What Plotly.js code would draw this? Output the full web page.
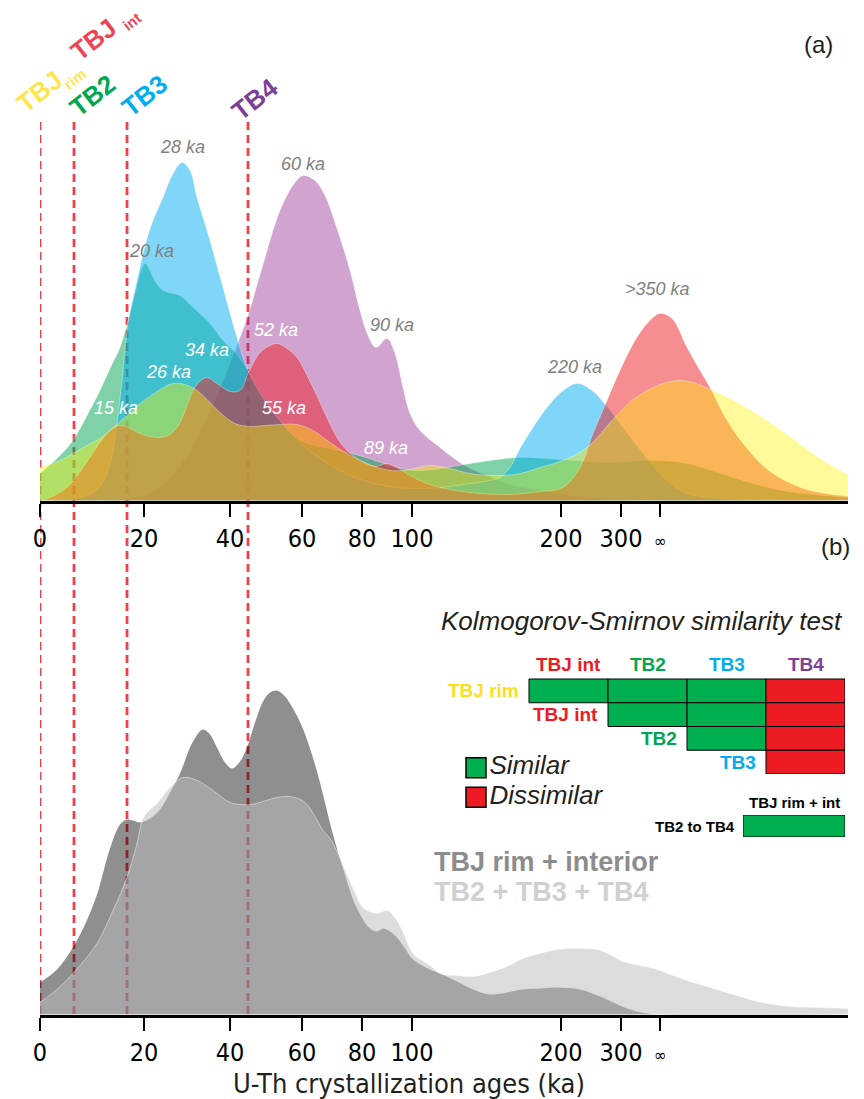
<!DOCTYPE html>
<html><head><meta charset="utf-8">
<script src="https://cdn.plot.ly/plotly-3.0.1.min.js"></script>
<style>html,body{margin:0;padding:0;background:#fff;}#chart{width:864px;height:1099px;}</style>
</head><body><div id="chart"></div>
<script>
// ---------- axis (non-linear age scale, positions in scale units) ----------
const tickPos  = [40, 144, 230, 302, 362, 412, 561, 621, 660];
const tickAges = ['0', '20', '40', '60', '80', '100', '200', '300', '∞'];

// ---------- panel (a): probability density curves (scale position, relative density) ----------
const tbjRimX = [40,60,73,87,100,110,120,130,140,150,162,173,185,197,207,220,235,250,265,280,297,313,330,347,367,390,410,430,450,470,500,520,540,560,587,613,633,660,683,713,753,787,820,848];
const tbjRimY = [33,40,47,55,62,70,79,88,97,104,112,117,116,110,101,88,77,74,75,76,76,70,58,47,37,30,31,35,32,27,25,27,33,39,53,81,101,116,120,110,89,66,42,26];

const tbjIntX = [40,50,67,83,100,110,120,130,140,157,170,180,187,193,200,207,217,230,240,248,260,270,277,287,297,313,327,337,347,360,375,387,397,410,430,450,480,510,540,563,580,593,607,620,635,648,660,672,687,700,710,727,747,770,803,848];
const tbjIntY = [0,3,13,33,58,70,75,72,67,63,66,78,95,110,119,123,117,109,110,127,148,155,157,152,143,113,83,63,50,40,34,37,33,25,16,11,7,6,9,13,33,67,100,130,160,178,187,182,153,130,113,80,52,29,12,4];

const tb2X = [40,60,73,87,100,110,120,130,137,141,145,149,153,158,163,172,180,193,210,223,237,250,263,283,303,330,363,397,417,440,470,490,520,560,607,653,687,720,753,787,848];
const tb2Y = [27,45,60,85,110,132,153,187,215,230,237,232,223,215,210,207,205,193,177,160,146,126,102,76,59,52,44,33,30,32,37,40,43,41,38,40,37,27,17,9,3];

const tb3X = [40,70,85,95,105,112,117,122,128,137,147,155,163,172,182,190,197,210,223,237,248,263,280,300,313,340,363,390,412,440,470,490,500,510,520,533,547,562,577,592,607,620,633,647,660,673,687,710,750,848];
const tb3Y = [0,1,4,9,22,45,77,120,177,220,262,285,303,325,338,330,303,260,213,163,130,103,80,58,47,30,20,14,12,13,17,20,23,33,52,73,93,109,117,110,94,77,60,42,27,15,7,3,1,0];

const tb4X = [40,100,130,150,170,190,210,220,230,240,248,263,280,295,303,315,325,337,350,360,368,376,387,395,403,410,420,440,457,470,490,510,540,570,600,650,848];
const tb4Y = [0,0,2,8,22,50,90,112,137,163,185,236,290,318,325,320,305,272,230,190,165,153,162,147,113,87,70,53,40,32,24,16,10,5,2,0,0];

// ---------- panel (b): pooled densities ----------
const tbjAllX = [40,57,73,85,97,110,120,127,133,140,150,160,170,180,193,203,210,217,225,232,240,247,255,263,270,277,285,293,302,310,317,323,333,343,357,370,377,383,390,397,405,413,430,440,457,473,490,507,523,540,557,580,595,607,627,647,660,848];
const tbjAllY = [32,45,67,90,120,166,190,195,194,192,196,205,222,241,273,285,280,267,252,246,253,267,292,313,322,324,318,306,288,266,243,220,180,146,106,86,83,86,83,77,66,55,45,41,33,25,20,22,25,26,27,25,20,15,6,1,0,0];

const tbAllX = [40,57,73,85,97,113,127,137,143,150,157,170,183,197,210,217,230,240,252,263,277,290,300,307,315,323,330,337,347,355,363,377,387,397,405,413,430,440,457,473,490,507,523,540,557,573,597,610,623,640,657,673,690,707,723,740,757,790,820,848];
const tbAllY = [12,25,41,55,71,104,137,171,196,205,211,227,237,234,226,221,212,210,210,213,217,218,215,210,198,184,176,163,140,122,107,101,104,94,78,61,49,41,39,38,42,48,56,61,65,66,65,60,53,49,45,39,33,28,23,18,13,8,7,6];

// ---------- eruption markers ----------
const eruptionNames = ['TBJ', 'TB2', 'TB3', 'TB4'];
const eruptionPos   = [40, 74, 127, 248];

// ---------- peak labels ----------
const peakText  = ['28 ka','60 ka','20 ka','90 ka','52 ka','34 ka','26 ka','15 ka','55 ka','89 ka','220 ka','&gt;350 ka'];
const peakX     = [182, 303, 151, 392, 276, 207, 168, 116, 284, 386, 574, 657];
const peakY     = [354, 337, 250, 176, 171, 151, 129, 93, 93, 53, 134, 212];
const peakWhite = [0,0,0,0,1,1,1,1,1,1,0,0];

// ---------- Kolmogorov-Smirnov results (1 similar, 0 dissimilar) ----------
const ksRows = ['TBJ rim', 'TBJ int', 'TB2', 'TB3'];
const ksCols = ['TBJ int', 'TB2', 'TB3', 'TB4'];
const ksResult = [
  [1, 1, 1, 0],
  [null, 1, 1, 0],
  [null, null, 1, 0],
  [null, null, null, 0]
];
const ksPooledRow = 'TB2 to TB4', ksPooledCol = 'TBJ rim + int', ksPooledResult = 1;
const legendNames = ['Similar', 'Dissimilar'];

// ---------- styling ----------
const W = 864, H = 1099;
const fx = px => px / W;
const fy = py => (H - py) / H;
const SANS = 'Liberation Sans, Arial, Helvetica, sans-serif';
const NARROW = 'Liberation Sans Narrow, DejaVu Sans Condensed, Arial Narrow, sans-serif';
const GREEN = '#00b050', RED = '#ed1c24';
const groupColor = {'TBJ rim':'#fedf1c','TBJ int':'#ed1c24','TB2':'#00a651','TB3':'#00aeef','TB4':'#7f3f98'};

function area(x, y, fill, xa, ya, lc) {
  return {type:'scatter', mode:'lines', x:x, y:y, xaxis:xa, yaxis:ya, fill:'tozeroy', fillcolor:fill,
    line:{color:lc, width:0.8, shape:'spline', smoothing:1}, hoverinfo:'skip', showlegend:false};
}

const edge = 'rgba(255,255,255,0.45)';
const traces = [
  area(tb4X, tb4Y, 'rgba(146,39,143,0.42)', 'x', 'y', edge),
  area(tb2X, tb2Y, 'rgba(0,166,81,0.5)', 'x', 'y', edge),
  area(tb3X, tb3Y, 'rgba(0,174,239,0.5)', 'x', 'y', edge),
  area(tbjIntX, tbjIntY, 'rgba(237,28,36,0.5)', 'x', 'y', edge),
  area(tbjRimX, tbjRimY, 'rgba(255,242,0,0.4)', 'x', 'y', edge),
  area(tbjAllX, tbjAllY, 'rgba(0,0,0,0.44)', 'x2', 'y2', 'rgba(0,0,0,0)'),
  area(tbAllX, tbAllY, 'rgba(186,187,190,0.51)', 'x2', 'y2', 'rgba(255,255,255,0.6)')
];

// KS table cells as bars (column index / row index units)
const cx = [], cb = [], cc = [];
ksResult.forEach((row, r) => row.forEach((v, c) => {
  if (v === null) return;
  cx.push(c + 0.5); cb.push(r); cc.push(v ? GREEN : RED);
}));
traces.push({type:'bar', x:cx, y:cx.map(() => 1), base:cb, width:cx.map(() => 1), xaxis:'x3', yaxis:'y3',
  marker:{color:cc, line:{color:'#000', width:1}}, hoverinfo:'skip', showlegend:false});
traces.push({type:'bar', x:[0.5], y:[1], base:[0], width:[1], xaxis:'x4', yaxis:'y4',
  marker:{color:[ksPooledResult ? GREEN : RED], line:{color:'#000', width:1}}, hoverinfo:'skip', showlegend:false});
// legend squares
traces.push({type:'scatter', mode:'markers+text', x:[0.5, 0.5], y:[0.5, 1.5], xaxis:'x5', yaxis:'y5',
  text:legendNames, textposition:'middle right', cliponaxis:false,
  textfont:{family:SANS, size:26, style:'italic', color:'#231f20'},
  marker:{symbol:'square', size:20, color:[GREEN, RED], line:{color:'#000', width:1.5}},
  hoverinfo:'skip', showlegend:false});

const tickText = tickAges.map(t => t === '∞' ? '<span style="font-size:17px">∞</span>' : t);
function xAxis(anchor) {
  return {domain:[fx(40), fx(848)], range:[40, 848], anchor:anchor, showline:true, linewidth:3, linecolor:'#000',
    ticks:'outside', ticklen:13, tickwidth:2.5, tickcolor:'#000', tickmode:'array', tickvals:tickPos, ticktext:tickText,
    tickfont:{family:NARROW, size:25, color:'#000'}, showgrid:false, zeroline:false, fixedrange:true};
}
const hidden = (extra) => Object.assign({visible:false, fixedrange:true, showgrid:false, zeroline:false}, extra);

const shapes = eruptionPos.map(p => ({type:'line', xref:'x', yref:'paper', x0:p, x1:p, y0:fy(1014), y1:fy(121),
  line:{color:'#f0404c', width:2.8, dash:'8px,5px'}, layer:'below'}));

const ann = [];
function A(o) { ann.push(Object.assign({showarrow:false, xref:'paper', yref:'paper', xanchor:'center', yanchor:'middle'}, o)); }
// rotated sample labels
const rot = -38;
A({text:'TBJ', x:fx(39), y:fy(92), textangle:rot, font:{family:SANS, size:26, weight:700, color:'#fde54a'}});
A({text:'rim', x:fx(74), y:fy(79), textangle:rot, font:{family:SANS, size:15, weight:700, color:'#fde54a'}});
A({text:'TBJ', x:fx(93), y:fy(40), textangle:rot, font:{family:SANS, size:26, weight:700, color:'#ef4456'}});
A({text:'int', x:fx(132), y:fy(22), textangle:rot, font:{family:SANS, size:15, weight:700, color:'#ef4456'}});
A({text:eruptionNames[1], x:fx(92), y:fy(96), textangle:rot, font:{family:SANS, size:26, weight:700, color:'#00a651'}});
A({text:eruptionNames[2], x:fx(144), y:fy(96), textangle:rot, font:{family:SANS, size:26, weight:700, color:'#00aeef'}});
A({text:eruptionNames[3], x:fx(255), y:fy(99), textangle:rot, font:{family:SANS, size:26, weight:700, color:'#7c3f98'}});
// panel letters
A({text:'(a)', x:fx(818), y:fy(45), font:{family:SANS, size:24, color:'#231f20'}});
A({text:'(b)', x:fx(835), y:fy(546), font:{family:SANS, size:24, color:'#231f20'}});
// peak labels
peakText.forEach((t, i) => A({text:t, xref:'x', yref:'y', x:peakX[i], y:peakY[i],
  font:{family:SANS, size:18, style:'italic', color: peakWhite[i] ? '#ffffff' : '#7f7f7f'}}));
// KS
A({text:'Kolmogorov-Smirnov similarity test', x:fx(642), y:fy(621), font:{family:SANS, size:26, style:'italic', color:'#231f20'}});
ksCols.forEach((c, i) => A({text:c, xref:'x3', yref:'y3', x:i + 0.5, y:-0.6, font:{family:SANS, size:19, weight:700, color:groupColor[c]}}));
ksRows.forEach((r, i) => A({text:r, xref:'x3', yref:'y3', x:i - 0.1, y:i + 0.5, xanchor:'right', font:{family:SANS, size:19, weight:700, color:groupColor[r]}}));
A({text:ksPooledCol, xref:'x4', yref:'y4', x:0.5, y:1, yanchor:'bottom', yshift:2, font:{family:SANS, size:15, weight:700, color:'#000'}});
A({text:ksPooledRow, xref:'x4', yref:'y4', x:0, y:0.5, xanchor:'right', xshift:-6, font:{family:SANS, size:15, weight:700, color:'#000'}});
// pooled names
A({text:'TBJ rim + interior', x:fx(432), y:fy(862), xanchor:'left', font:{family:SANS, size:27, weight:700, color:'#8c8c8e'}});
A({text:'TB2 + TB3 + TB4', x:fx(432), y:fy(892), xanchor:'left', font:{family:SANS, size:27, weight:700, color:'#cfd0d2'}});
// x title
A({text:'U-Th crystallization ages (ka)', x:fx(409), y:fy(1083), font:{family:NARROW, size:27, color:'#231f20'}});

const layout = {
  width:W, height:H, margin:{l:0, r:0, t:0, b:0}, paper_bgcolor:'#ffffff', plot_bgcolor:'rgba(0,0,0,0)',
  showlegend:false, font:{family:SANS, color:'#000'}, barmode:'overlay',
  xaxis:xAxis('y'), yaxis:hidden({domain:[fy(500.5), fy(60)], range:[0, 440.5], anchor:'x'}),
  xaxis2:xAxis('y2'), yaxis2:hidden({domain:[fy(1014.5), fy(560)], range:[0, 454.5], anchor:'x2'}),
  // one spare column on the left and one spare row on top hold the row / column labels
  xaxis3:hidden({domain:[fx(450), fx(845)], range:[-1, 4], anchor:'y3'}),
  yaxis3:hidden({domain:[fy(774), fy(655.25)], range:[4, -1], anchor:'x3'}),
  xaxis4:hidden({domain:[fx(743), fx(845)], range:[0, 1], anchor:'y4'}),
  yaxis4:hidden({domain:[fy(837), fy(815)], range:[0, 1], anchor:'x4'}),
  xaxis5:hidden({domain:[fx(466), fx(486)], range:[0, 1], anchor:'y5'}),
  yaxis5:hidden({domain:[fy(812), fy(753)], range:[2, 0], anchor:'x5'}),
  shapes:shapes, annotations:ann
};
Plotly.newPlot('chart', traces, layout, {staticPlot:true, displayModeBar:false});
</script></body></html>
